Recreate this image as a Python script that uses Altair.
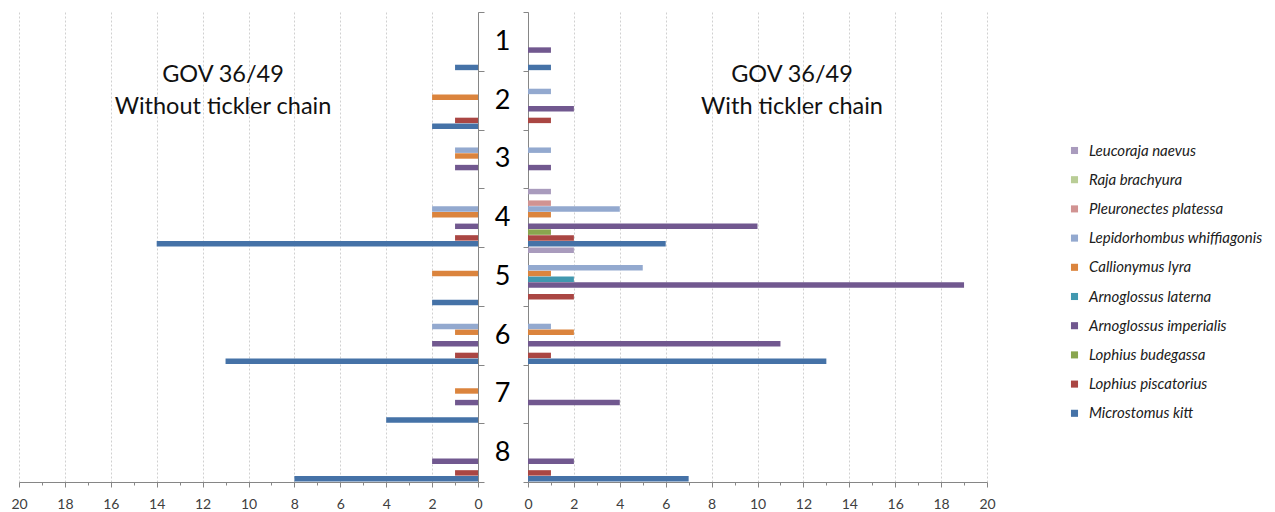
import altair as alt
import pandas as pd

categories = ["1", "2", "3", "4", "5", "6", "7", "8"]

# series order as in the workbook (first series drawn at the bottom of each group)
species = [
    "Microstomus kitt",
    "Lophius piscatorius",
    "Lophius budegassa",
    "Arnoglossus imperialis",
    "Arnoglossus laterna",
    "Callionymus lyra",
    "Lepidorhombus whiffiagonis",
    "Pleuronectes platessa",
    "Raja brachyura",
    "Leucoraja naevus",
]
colors = [
    "#4572A7", "#AA4643", "#89A54E", "#71588F", "#4198AF",
    "#DB843D", "#93A9CF", "#D19392", "#B9CD96", "#A99BBD",
]

# GOV 36/49 without tickler chain (categories 1..8)
wo_kitt = [1, 2, 0, 14, 2, 11, 4, 8]
wo_piscatorius = [0, 1, 0, 1, 0, 1, 0, 1]
wo_budegassa = [0, 0, 0, 0, 0, 0, 0, 0]
wo_imperialis = [0, 0, 1, 1, 0, 2, 1, 2]
wo_laterna = [0, 0, 0, 0, 0, 0, 0, 0]
wo_lyra = [0, 2, 1, 2, 2, 1, 1, 0]
wo_whiffiagonis = [0, 0, 1, 2, 0, 2, 0, 0]
wo_platessa = [0, 0, 0, 0, 0, 0, 0, 0]
wo_brachyura = [0, 0, 0, 0, 0, 0, 0, 0]
wo_naevus = [0, 0, 0, 0, 0, 0, 0, 0]

# GOV 36/49 with tickler chain (categories 1..8)
w_kitt = [1, 0, 0, 6, 0, 13, 0, 7]
w_piscatorius = [0, 1, 0, 2, 2, 1, 0, 1]
w_budegassa = [0, 0, 0, 1, 0, 0, 0, 0]
w_imperialis = [1, 2, 1, 10, 19, 11, 4, 2]
w_laterna = [0, 0, 0, 0, 2, 0, 0, 0]
w_lyra = [0, 0, 0, 1, 1, 2, 0, 0]
w_whiffiagonis = [0, 1, 1, 4, 5, 1, 0, 0]
w_platessa = [0, 0, 0, 1, 0, 0, 0, 0]
w_brachyura = [0, 0, 0, 0, 0, 0, 0, 0]
w_naevus = [0, 0, 0, 1, 2, 0, 0, 0]

left_title = ["GOV 36/49", "Without tickler chain"]
right_title = ["GOV 36/49", "With tickler chain"]

without_series = [wo_kitt, wo_piscatorius, wo_budegassa, wo_imperialis, wo_laterna,
                  wo_lyra, wo_whiffiagonis, wo_platessa, wo_brachyura, wo_naevus]
with_series = [w_kitt, w_piscatorius, w_budegassa, w_imperialis, w_laterna,
               w_lyra, w_whiffiagonis, w_platessa, w_brachyura, w_naevus]


def build(series_list):
    rows = []
    for sp, vals in zip(species, series_list):
        for cat, v in zip(categories, vals):
            if v > 0:
                rows.append({"category": cat, "species": sp, "value": v})
    return pd.DataFrame(rows)


df_wo = build(without_series)
df_w = build(with_series)

legend_order = list(reversed(species))
legend_colors = list(reversed(colors))

FONT = "Lato"
W, H = 459, 470
AXIS_GRAY = "#868686"


def x_axis():
    return alt.Axis(
        values=list(range(0, 21)),
        labelExpr="datum.value % 2 == 0 ? datum.label : ''",
        labelFlush=False,
        grid=True,
        gridColor="#D0D0D0",
        gridDash=[2, 2],
        gridOpacity={"condition": {"test": "datum.value % 2 == 0", "value": 1}, "value": 0},
        domainColor=AXIS_GRAY,
        tickColor=AXIS_GRAY,
        tickSize={"condition": {"test": "datum.value % 2 == 0", "value": 5}, "value": 3},
        labelFont=FONT,
        labelFontSize=14,
        labelColor="#404040",
        labelPadding=10,
        labelBaseline="top",
        title=None,
    )


color_enc = alt.Color(
    "species:N",
    scale=alt.Scale(domain=legend_order, range=legend_colors),
    legend=alt.Legend(
        title=None,
        orient="none",
        legendX=1048,
        legendY=131,
        symbolType="square",
        symbolSize=50,
        symbolStrokeWidth=0,
        labelFont=FONT,
        labelFontSize=15,
        labelFontStyle="italic",
        labelColor="#202020",
        labelOffset=7,
        rowPadding=13.2,
        labelLimit=300,
    ),
)

yoff = alt.YOffset("species:N", scale=alt.Scale(domain=legend_order, paddingInner=0.06, paddingOuter=0.1))


def title_layers(lines, xpix):
    layers = []
    for i, line in enumerate(lines):
        layers.append(
            alt.Chart(pd.DataFrame({"t": [line]})).mark_text(
                font=FONT, fontSize=23.5, color="#111111", align="center", baseline="middle",
            ).encode(text="t:N", x=alt.value(xpix), y=alt.value(63 + 32 * i))
        )
    return layers


left_bars = alt.Chart(df_wo).mark_bar().encode(
    x=alt.X("value:Q", scale=alt.Scale(domain=[0, 20], reverse=True, nice=False), axis=x_axis()),
    y=alt.Y("category:N", sort=categories,
            scale=alt.Scale(paddingInner=0, paddingOuter=0),
            axis=alt.Axis(orient="right", labels=False, tickBand="extent", tickSize=6,
                          tickColor=AXIS_GRAY, domainColor=AXIS_GRAY, grid=False, title=None)),
    yOffset=yoff,
    color=color_enc,
)

right_bars = alt.Chart(df_w).mark_bar().encode(
    x=alt.X("value:Q", scale=alt.Scale(domain=[0, 20], nice=False), axis=x_axis()),
    y=alt.Y("category:N", sort=categories,
            scale=alt.Scale(paddingInner=0, paddingOuter=0),
            axis=alt.Axis(orient="left", tickBand="extent", tickSize=5,
                          tickColor=AXIS_GRAY, domainColor=AXIS_GRAY, grid=False,
                          labelFont=FONT, labelFontSize=27, labelColor="#000000",
                          labelAlign="center", labelBaseline="middle", labelPadding=21,
                          title=None)),
    yOffset=yoff,
    color=color_enc,
)

left = alt.layer(left_bars, *title_layers(left_title, 204)).properties(width=W, height=H)
right = alt.layer(right_bars, *title_layers(right_title, 264)).properties(width=W, height=H)

chart = alt.hconcat(left, right, spacing=9).properties(
    padding={"left": 2, "top": -10, "right": 0, "bottom": 0}
).configure_view(stroke=None)

chart.save("out.html", embed_options={"renderer": "svg", "actions": False})
